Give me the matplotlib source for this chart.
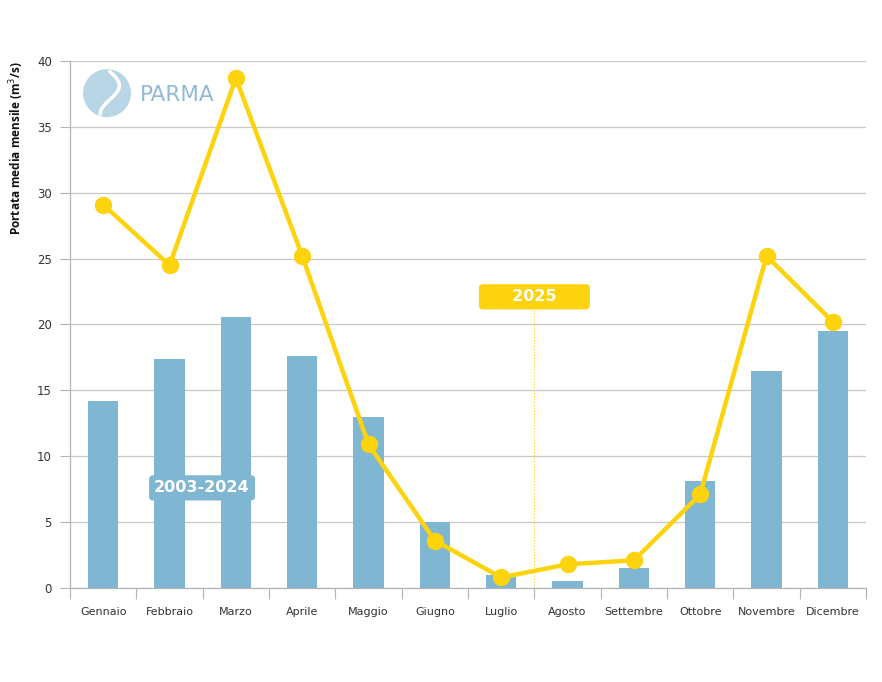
import numpy as np
import matplotlib
matplotlib.use("Agg")
import matplotlib.pyplot as plt
from matplotlib.patches import Ellipse

mesi = ["Gennaio", "Febbraio", "Marzo", "Aprile", "Maggio", "Giugno",
        "Luglio", "Agosto", "Settembre", "Ottobre", "Novembre", "Dicembre"]
media_2003_2024 = [14.2, 17.4, 20.6, 17.6, 13.0, 5.0, 1.0, 0.5, 1.5, 8.1, 16.5, 19.5]
anno_2025 = [29.1, 24.5, 38.7, 25.2, 10.9, 3.6, 0.8, 1.8, 2.1, 7.1, 25.2, 20.2]
y_ticks = [0, 5, 10, 15, 20, 25, 30, 35, 40]

blu = "#7fb6d2"
giallo = "#fcd30c"
grigio = "#b4b4b4"

fig = plt.figure(figsize=(8.82, 6.82), dpi=100)
ax = fig.add_axes([0.0794, 0.1378, 0.9025, 0.7728])

x = np.arange(len(mesi))
ax.bar(x, media_2003_2024, width=0.46, color=blu, zorder=2)
ax.plot(x, anno_2025, color=giallo, lw=3.2, marker="o", ms=11.5, zorder=4)

ax.set_xlim(-0.5, len(mesi) - 0.5)
ax.set_ylim(0, 40)

# y axis
ax.set_yticks(y_ticks)
ax.tick_params(axis="y", length=7, color=grigio, labelsize=8.5, labelcolor="#333333", pad=6)
ax.grid(axis="y", color="#c8c8c8", lw=0.9, zorder=0)
ax.set_ylabel("Portata media mensile (m$^3$/s)", fontsize=8.5, fontweight="bold",
              color="#111111", family="Open Sans", labelpad=8, loc="top")

# x axis: ticks on boundaries, labels at centers
ax.set_xticks(np.arange(-0.5, len(mesi), 1.0))
ax.set_xticklabels([])
ax.tick_params(axis="x", which="major", length=8, color=grigio)
ax.set_xticks(x, minor=True)
ax.set_xticklabels(mesi, minor=True)
ax.tick_params(axis="x", which="minor", length=0, labelsize=8, labelcolor="#333333", pad=14)

for s in ["top", "right"]:
    ax.spines[s].set_visible(False)
for s in ["left", "bottom"]:
    ax.spines[s].set_color(grigio)
    ax.spines[s].set_linewidth(0.9)

# labels
ax.plot([6.5, 6.5], [0, 21.4], color=giallo, lw=0.8, ls=":", zorder=1)
ax.text(6.5, 22.1, "     2025     ", ha="center", va="center", color="white",
        fontsize=11.5, fontweight="bold", zorder=5,
        bbox=dict(boxstyle="round,pad=0.32,rounding_size=0.25", fc=giallo, ec="none"))
ax.text(1.49, 7.6, "2003-2024", ha="center", va="center", color="white",
        fontsize=11.5, fontweight="bold", zorder=5,
        bbox=dict(boxstyle="round,pad=0.32,rounding_size=0.25", fc=blu, ec="none"))

# logo
ax.add_patch(Ellipse((0.0465, 0.939), 48 / 796, 48 / 527, transform=ax.transAxes,
                     fc="#b9d6e6", ec="none", zorder=3))
t = np.linspace(0, 1, 30)
ax.plot(0.05 + 0.012 * np.sin(t * np.pi * 1.5), 0.98 - 0.08 * t, transform=ax.transAxes,
        color="white", lw=2.5, zorder=3)
ax.text(0.088, 0.935, "PARMA", transform=ax.transAxes, ha="left", va="center",
        fontsize=15.5, color="#8fbbd3", zorder=3)

fig.savefig("out.png", dpi=100)
